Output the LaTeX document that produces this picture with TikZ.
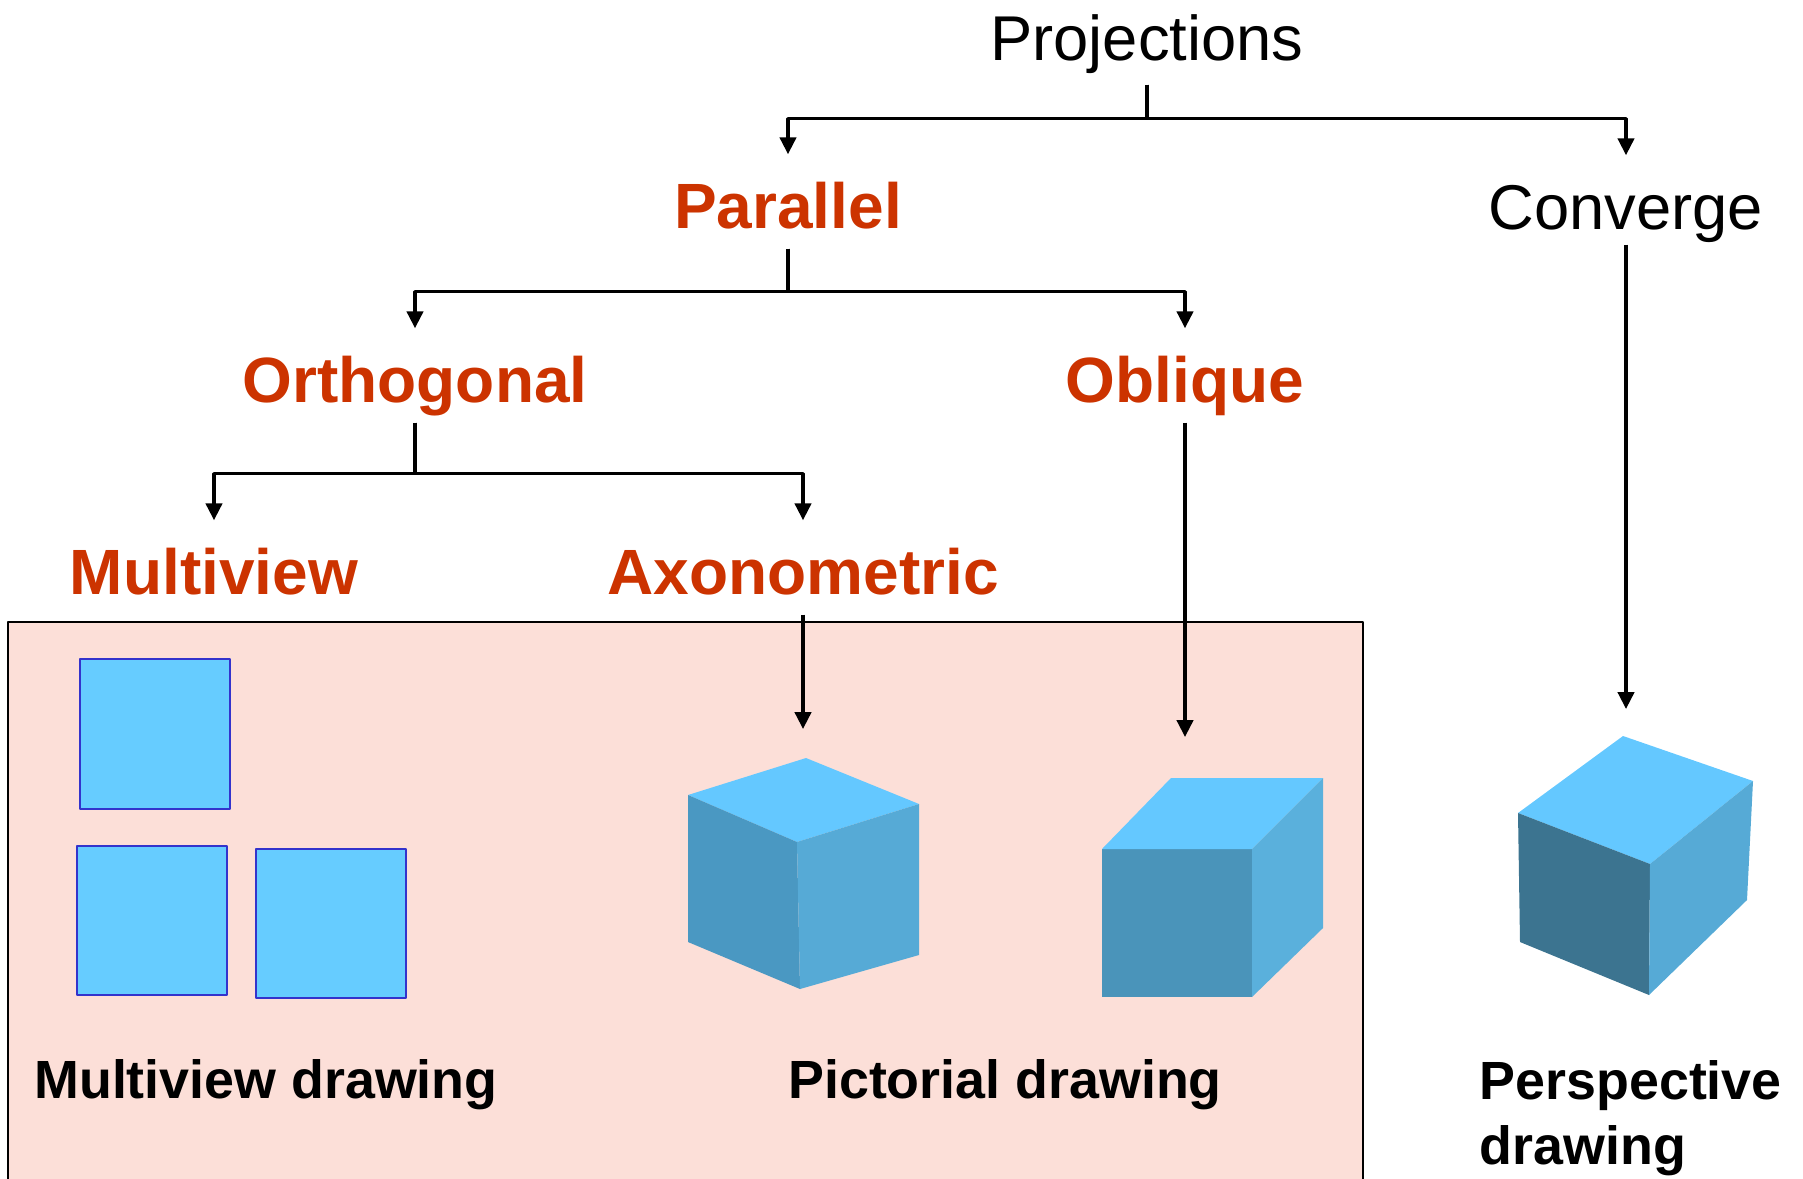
\documentclass[tikz,border=0pt]{standalone}
\usepackage{fontspec}
\setmainfont{Liberation Sans}
\usetikzlibrary{arrows.meta}

\definecolor{headred}{RGB}{204,51,0}
\definecolor{panel}{RGB}{252,223,216}
\definecolor{viewfill}{RGB}{102,204,255}
\definecolor{viewedge}{RGB}{51,51,204}
\definecolor{facetop}{RGB}{100,200,255}
\definecolor{isoleft}{RGB}{74,152,194}
\definecolor{isoright}{RGB}{86,170,214}
\definecolor{obfront}{RGB}{74,148,186}
\definecolor{obright}{RGB}{90,176,220}
\definecolor{psleft}{RGB}{60,116,144}

\begin{document}
\begin{tikzpicture}[x=0.01cm, y=-0.01cm, >={Triangle[length=4.8pt,width=4.6pt]},
    line join=round,
    conn/.style={line width=1pt},
    arr/.style={conn,->},
    lab/.style={inner sep=0pt, anchor=base, text height=0.73cm, text depth=0.2cm},
    kind/.style={lab, text=headred, font=\fontsize{18.2}{22}\selectfont\bfseries},
    plain/.style={lab, font=\fontsize{18}{22}\selectfont},
    caption/.style={inner sep=0pt, font=\fontsize{15.3}{18.5}\selectfont\bfseries},
    view/.style={fill=viewfill, draw=viewedge, line width=0.6pt}]
  \useasboundingbox (0,0) rectangle (1803,1178);

  % shaded panel for the parallel results
  \filldraw[fill=panel, draw=black, line width=0.7pt] (8,622) rectangle (1363,1190);

  % tree labels
  \node[plain] (proj)  at (1147,60)  {Projections};
  \node[kind]  (par)   at (788,228)  {Parallel};
  \node[plain] (conv)  at (1626,229) {Converge};
  \node[kind]  (orth)  at (415,402)  {Orthogonal};
  \node[kind]  (obl)   at (1185,402) {Oblique};
  \node[kind]  (multi) at (214,594)  {Multiview};
  \node[kind]  (axo)   at (803,594)  {Axonometric};

  % branches
  \draw[arr] ([yshift=-0.04cm]proj.south) -- ++(0,34) -| (par.north);
  \draw[arr] ([yshift=-0.04cm]proj.south) -- ++(0,34) -| (conv.north);
  \draw[arr] (par.south) -- ++(0,43) -| (orth.north);
  \draw[arr] (par.south) -- ++(0,43) -| (obl.north);
  \draw[arr] (orth.south) -- ++(0,51) -| (multi.north);
  \draw[arr] (orth.south) -- ++(0,51) -| (axo.north);

  % arrows down to the drawings
  \coordinate (isotop) at (803,729);
  \coordinate (obtop)  at (1185,737);
  \coordinate (pstop)  at (1626,709);
  \draw[arr] (axo.south)  -- (isotop);
  \draw[arr] (obl.south)  -- (obtop);
  \draw[arr] ([yshift=0.05cm]conv.south) -- (pstop);

  % three views
  \draw[view] (80,659) rectangle (230,809);
  \draw[view] (77,846) rectangle (227,995);
  \draw[view] (256,849) rectangle (406,998);

  % isometric cube
  \fill[facetop]  (806,758) -- (919,804) -- (797,842) -- (688,795) -- cycle;
  \fill[isoleft]  (688,795) -- (797,842) -- (800,989) -- (688,942) -- cycle;
  \fill[isoright] (797,842) -- (919,804) -- (919,955) -- (800,989) -- cycle;

  % oblique cube
  \fill[obfront] (1102,849) rectangle (1252,997);
  \fill[facetop] (1102,849) -- (1171,778) -- (1323,778) -- (1252,849) -- cycle;
  \fill[obright] (1252,849) -- (1323,778) -- (1323,928) -- (1252,997) -- cycle;

  % perspective cube
  \fill[facetop]  (1623,736) -- (1753,781) -- (1650,864) -- (1518,813) -- cycle;
  \fill[psleft]   (1518,813) -- (1650,864) -- (1649,995) -- (1520,942) -- cycle;
  \fill[isoright] (1650,864) -- (1753,781) -- (1747,900) -- (1649,995) -- cycle;

  % captions
  \node[caption, anchor=base] (mvdraw) at (266,1098) {Multiview drawing};
  \node[caption, anchor=base] (pidraw) at (1005,1098) {Pictorial drawing};
  \node[caption, anchor=north west, align=left] (psdraw) at (1479,1060)
    {Perspective\\drawing};
\end{tikzpicture}
\end{document}
